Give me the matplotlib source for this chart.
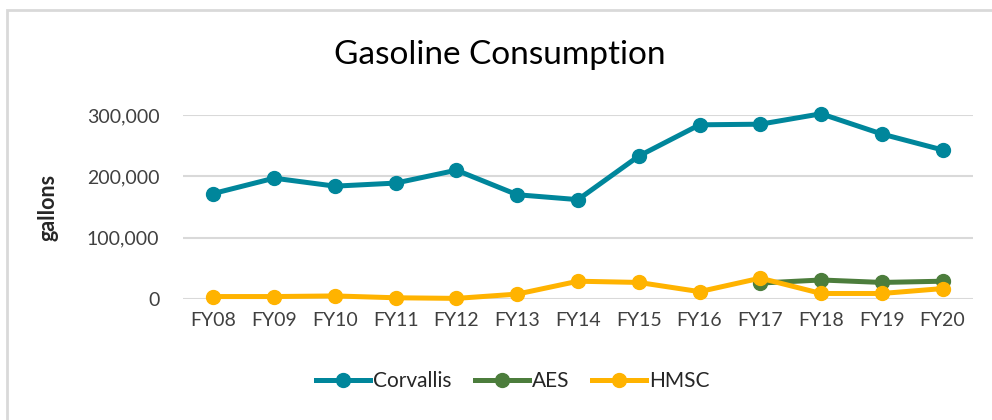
import matplotlib
matplotlib.use("Agg")
import matplotlib.pyplot as plt
from matplotlib.patches import Rectangle
from matplotlib.ticker import FuncFormatter

years = ["FY08", "FY09", "FY10", "FY11", "FY12", "FY13", "FY14",
         "FY15", "FY16", "FY17", "FY18", "FY19", "FY20"]
corvallis = [172000, 197000, 184000, 189000, 210000, 170000, 162000,
             233000, 284000, 285000, 302000, 269000, 243000]
aes_years = ["FY17", "FY18", "FY19", "FY20"]
aes = [26000, 31000, 27000, 29000]
hmsc = [4000, 4000, 5000, 2000, 1000, 8000, 29000,
        27000, 12000, 34000, 9000, 9000, 17000]
yticks = [0, 100000, 200000, 300000]

plt.rcParams['font.family'] = ['Lato', 'DejaVu Sans']

W, H = 992, 420
fig = plt.figure(figsize=(W / 100, H / 100), dpi=100)

# outer chart border
fig.patches.append(Rectangle((7 / W, -0.1), 1.2, 1 - 10 / H + 0.1,
                             transform=fig.transFigure, fill=False,
                             edgecolor="#d9d9d9", linewidth=2.0))

ax = fig.add_axes([183 / W, 1 - 299 / H, (973 - 183) / W, (299 - 115) / H])

x = list(range(len(years)))
xa = [years.index(y) for y in aes_years]

c_corv = "#00869B"
c_aes = "#4C7D3C"
c_hmsc = "#FFB300"

ax.plot(x, corvallis, color=c_corv, lw=3.6, marker="o", ms=10,
        clip_on=False, zorder=3, label="Corvallis")
ax.plot(xa, aes, color=c_aes, lw=3.6, marker="o", ms=10,
        clip_on=False, zorder=3, label="AES")
ax.plot(x, hmsc, color=c_hmsc, lw=3.6, marker="o", ms=10,
        clip_on=False, zorder=4, label="HMSC")

ax.set_xlim(-0.5, len(years) - 0.5)
ax.set_ylim(0, 300000)
ax.set_yticks(yticks)
ax.yaxis.set_major_formatter(FuncFormatter(lambda v, p: f"{int(v):,}"))
ax.set_xticks(x)
ax.set_xticklabels(years)

ax.grid(axis="y", color="#d9d9d9", lw=1.5)
ax.set_axisbelow(True)
for s in ax.spines.values():
    s.set_visible(False)
ax.tick_params(axis="both", length=0, labelsize=14, colors="#404040")
ax.tick_params(axis="y", pad=17)
ax.tick_params(axis="x", pad=9)

ax.set_ylabel("gallons", fontsize=15.5, color="#262626", fontweight="bold")
ax.yaxis.set_label_coords(-0.158, 0.5)

fig.text(500 / W, 1 - 55 / H, "Gasoline Consumption", ha="center",
         va="center", fontsize=24, color="#000000")

leg = fig.legend(loc="center", bbox_to_anchor=(513 / W, 1 - 381 / H),
                 ncol=3, frameon=False, fontsize=15, handlelength=2.6,
                 columnspacing=1.1, handletextpad=0.15)
for t in leg.get_texts():
    t.set_color("#262626")

fig.savefig("out.png", dpi=100)
